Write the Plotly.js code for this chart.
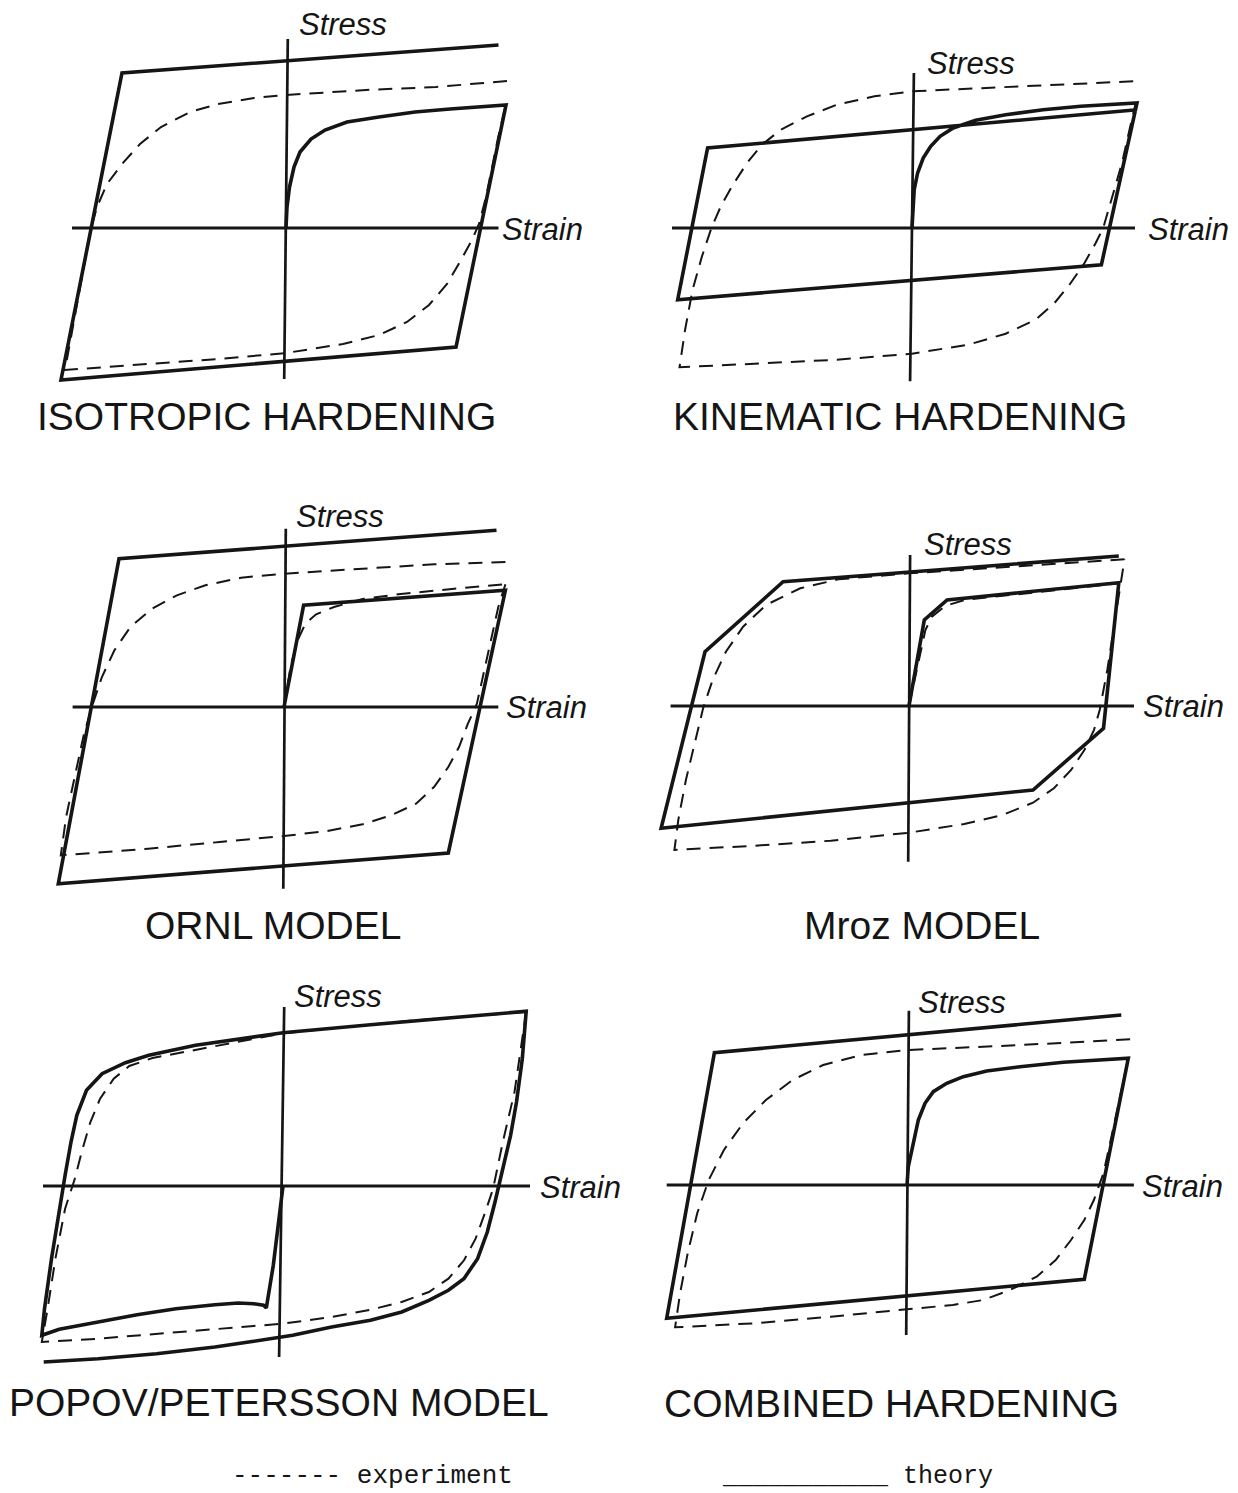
<!DOCTYPE html>
<html>
<head>
<meta charset="utf-8">
<script src="https://cdn.plot.ly/plotly-3.0.1.min.js"></script>
<style>
  html, body { margin: 0; padding: 0; background: #ffffff; }
  #chart { width: 1238px; height: 1493px; }
</style>
</head>
<body>
<div id="chart"></div>
<script>
// Strain / stress values in arbitrary units, origin at zero strain and zero stress.

// ---- Isotropic hardening ----
const isoTheoryStrain = [0, 1, 3.5, 8, 14, 25, 39, 61, 93, 129, 164, 196, 220, 170, -225, -164, 212.5];
const isoTheoryStress = [0, 21, 41, 61, 76, 89, 98, 106, 111, 116, 119, 121, 123, -119, -152, 155, 183];
const isoExpStrain = [221, 150, 80, 0, -32, -68, -96, -125, -146, -164, -179, -189, -195, -221, -139, -68, 0, 57, 93, 121, 143, 161, 175, 186, 193, 200, 212, 219.6];
const isoExpStress = [147, 141, 138, 133, 130, 124, 116, 101, 84, 64, 44, 21, 0, -142, -136, -131, -125, -116, -107, -94, -77, -56, -32, -12, 4, 31, 90, 122.7];
const isoStrainAxis = [-214, 212.5];
const isoStressAxis = [189, -151];
const isoStressAxisLean = [1.8, -1.8];

// ---- Kinematic hardening ----
const kinTheoryStrain = [0, 0.75, 2.2, 5.6, 11.2, 18.7, 28.1, 41.2, 63.7, 93.7, 131.2, 168.7, 225, 189.4, -234.3, -204.4, 225];
const kinTheoryStress = [0, 18.3, 38.3, 55, 70, 81.7, 91.7, 100, 107.7, 113.3, 118.3, 121.7, 125, -36.7, -71.7, 80, 118.3];
const kinExpStrain = [221.2, 112.5, 0, -37.5, -75, -105, -131.2, -150, -165, -180, -191.2, -200.6, -210, -219.4, -226.9, -232.5, -150, -75, 0, 56.2, 93.7, 123.7, 142.5, 157.5, 172.5, 183.7, 191.2, 200.6, 210, 217.5, 223.5];
const kinExpStress = [146.7, 141.7, 136.7, 131.7, 123.3, 111.7, 98.3, 83.3, 65, 41.7, 21.7, 0, -28.3, -61.7, -101.7, -139.3, -135, -131.7, -125.7, -116.7, -105.7, -91.7, -75, -56.7, -35, -15, 0, 31.7, 65, 98.3, 124];
const kinStrainAxis = [-240, 223];
const kinStressAxis = [155, -153.3];
const kinStressAxisLean = [1.9, -1.9];

// ---- ORNL model ----
const ornlTheoryStrain = [0, 13.6, 19.6, 221.4, 164.3, -225.7, -165, 212.5];
const ornlTheoryStress = [0, 73.3, 101.7, 116.7, -146, -176.7, 148.3, 176.7];
const ornlExpInitStrain = [0, 7.1, 14.3, 21.4, 32.1, 50, 78.6, 114.3, 167.9, 221.4];
const ornlExpInitStress = [0, 43.3, 68.3, 83.3, 92.7, 100, 108, 112.7, 118, 122.7];
const ornlExpStrain = [221.4, 150, 78.6, 0, -42.9, -78.6, -107.1, -132.1, -153.6, -169.6, -182.1, -191.1, -200, -208.9, -217.9, -223.2, -135.7, -64.3, 0, 42.9, 78.6, 107.1, 132.1, 150, 164.3, 175, 183.9, 192.9, 203.6, 214.3, 221.4];
const ornlExpStress = [145, 142.7, 138.3, 133.3, 129.3, 121.7, 111.7, 98.3, 80, 56.7, 30, 3.3, -26.7, -66.7, -110, -148.3, -141.7, -135, -129, -124, -117.3, -108.3, -96.7, -80, -60, -40, -16.7, 3.3, 50, 100, 122.7];
const ornlStrainAxis = [-211.4, 214.3];
const ornlStressAxis = [178.3, -181.7];
const ornlStressAxisLean = [1.8, -0.7];

// ---- Mroz model ----
const mrozTheoryStrain = [0, 15.3, 38.1, 209.8, 194.5, 124, -247.9, -204, -125.9, 209.8];
const mrozTheoryStress = [0, 86, 106, 123.3, -22.3, -84, -122.3, 54.3, 124.3, 150];
const mrozExpInitStrain = [0, 9.5, 16.4, 22.9, 36.2, 55.3, 112.5, 209.8];
const mrozExpInitStress = [0, 46, 76, 89.3, 100, 106, 112, 122.7];
const mrozExpStrain = [215.5, 112.5, 0, -70.6, -108.7, -143, -165.9, -183.1, -196.4, -205.9, -215.5, -223.1, -230.7, -234.6, -154.5, -78.2, 0, 55.3, 93.4, 124, 144.9, 162.1, 175.4, 185, 190.7, 198.3, 206, 212.4, 215.5];
const mrozExpStress = [146.7, 140, 132.7, 126.7, 117.7, 101, 79.3, 54.3, 26, -2.3, -40.7, -74, -114, -144, -139.7, -134.7, -126.7, -118, -109, -96.7, -82.3, -64, -44, -24, -4, 36, 86, 127.7, 146.7];
const mrozStrainAxis = [-238.4, 225];
const mrozStressAxis = [151, -155.7];
const mrozStressAxisLean = [1.1, -0.8];

// ---- Popov / Petersson model ----
const popovTheoryStrain = [0, -2.7, -9.7, -16.7, -19.5, -29.2, -44.7, -68.1, -107, -145.9, -184.8, -223.7, -241.2,
  -238.5, -231.5, -223.7, -217.9, -212, -206.2, -196.5, -180.9, -157.6, -134.2, -87.5, -38.9, 0, 87.5, 165.4, 243.2,
  239.3, 233.5, 227.6, 221.8, 216.7, 212, 204.3, 194.6, 180.9, 165.4, 145.9, 118.7, 87.5, 48.6, 9.7, -29.2, -68.1, -126.5, -184.8, -239.3];
const popovTheoryStress = [0, -22.7, -79.3, -122, -119.3, -117.7, -117, -118.7, -122.7, -128.7, -136, -143.3, -149.3,
  -122.7, -72.7, -22.7, 10.7, 44, 70.7, 95.7, 112.3, 123.3, 130.7, 140.7, 148, 153.3, 161.3, 168, 174.7,
  127.3, 84, 50.7, 27.3, 4, -16, -46, -72.7, -92.7, -104.3, -114.3, -126, -134.3, -141, -149.3, -155.3, -161, -167.7, -172.7, -176];
const popovExpStrain = [243.2, 126.5, 0, -38.9, -87.5, -130.4, -153.7, -169.3, -182.9, -192.6, -200.4, -208.2, -217.9, -227.6, -235.4, -241.2, -184.8, -107, -29.2, 0, 48.6, 87.5, 118.7, 145.9, 165.4, 181, 192.6, 202.3, 210.1, 219.8, 231.5, 241.2, 243.2];
const popovExpStress = [174, 165.3, 152.7, 145.3, 136.7, 128, 120, 107.3, 87.3, 64, 37.3, 7.3, -22.7, -72.7, -122.7, -156, -152.7, -146, -140, -137.7, -131, -123.7, -116, -106, -92.7, -74.3, -52.7, -26, -2.7, 44, 94, 160.7, 174];
const popovStrainAxis = [-240, 247];
const popovStressAxis = [179, -171];
const popovStressAxisLean = [1.2, -3.9];

// ---- Combined hardening ----
const combTheoryStrain = [0, 1.3, 6.3, 11.3, 18, 26.3, 39.7, 56.3, 79.7, 113, 156.3, 189.7, 221.3, 177.3, -240.3, -192.6, 214.3];
const combTheoryStress = [0, 18.3, 41.7, 65, 81.7, 93.3, 101.7, 108.3, 114, 118.3, 122.7, 125, 126.7, -94.3, -133.3, 132.3, 170];
const combExpStrain = [223.1, 114.4, 0, -45.8, -83.9, -114.4, -141.1, -164, -183.1, -198.3, -209.8, -219.3, -226.9, -231.9, -152.6, -76.3, 0, 45.8, 76.3, 103, 129.7, 148.7, 164, 177.3, 186.9, 196.4, 205.9, 215.5, 221.3];
const combExpStress = [145.7, 140, 135, 130, 120, 105, 85, 61.7, 35, 5, -28.3, -68.3, -108.3, -142.3, -138.3, -131.7, -124.3, -120, -115, -105, -91.7, -75, -55, -35, -15, 11.7, 55, 98.3, 126.7];
const combStrainAxis = [-240.3, 226.9];
const combStressAxis = [174.3, -150];
const combStressAxisLean = [1.9, -0.8];

// Panel captions and legend text
const panelTitles = ['ISOTROPIC HARDENING', 'KINEMATIC HARDENING', 'ORNL MODEL', 'Mroz MODEL', 'POPOV/PETERSSON MODEL', 'COMBINED HARDENING'];
const stressLabel = 'Stress';
const strainLabel = 'Strain';
const legendExperiment = '------- experiment';
const legendTheory = '___________ theory';

// ---------------------------------------------------------------
const W = 1238, H = 1493;
const INK = '#151515';

// Placement of each panel on the page (pixel position of the axes crossing)
const panels = [
  { origin: [286, 228], theory: [isoTheoryStrain, isoTheoryStress], exp: [[isoExpStrain, isoExpStress]],
    hAxis: isoStrainAxis, vAxis: isoStressAxis, vLean: isoStressAxisLean,
    stressPos: [343, 24], strainPos: [500, 229], titlePos: [266, 416] },
  { origin: [912, 228], theory: [kinTheoryStrain, kinTheoryStress], exp: [[kinExpStrain, kinExpStress]],
    hAxis: kinStrainAxis, vAxis: kinStressAxis, vLean: kinStressAxisLean,
    stressPos: [971, 64], strainPos: [1146, 229], titlePos: [900, 416] },
  { origin: [284, 707], theory: [ornlTheoryStrain, ornlTheoryStress],
    exp: [[ornlExpStrain, ornlExpStress], [ornlExpInitStrain, ornlExpInitStress]],
    hAxis: ornlStrainAxis, vAxis: ornlStressAxis, vLean: ornlStressAxisLean,
    stressPos: [340, 516], strainPos: [504, 708], titlePos: [273, 925] },
  { origin: [909, 706], theory: [mrozTheoryStrain, mrozTheoryStress],
    exp: [[mrozExpStrain, mrozExpStress], [mrozExpInitStrain, mrozExpInitStress]],
    hAxis: mrozStrainAxis, vAxis: mrozStressAxis, vLean: mrozStressAxisLean,
    stressPos: [968, 544], strainPos: [1141, 707], titlePos: [922, 925] },
  { origin: [283, 1186], theory: [popovTheoryStrain, popovTheoryStress], exp: [[popovExpStrain, popovExpStress]],
    hAxis: popovStrainAxis, vAxis: popovStressAxis, vLean: popovStressAxisLean,
    stressPos: [338, 997], strainPos: [538, 1187], titlePos: [279, 1402] },
  { origin: [907, 1185], theory: [combTheoryStrain, combTheoryStress], exp: [[combExpStrain, combExpStress]],
    hAxis: combStrainAxis, vAxis: combStressAxis, vLean: combStressAxisLean,
    stressPos: [962, 1002], strainPos: [1140, 1186], titlePos: [891, 1403] }
];

const HALF_X = 255, DY_TOP = 195, DY_BOT = 190;
const traces = [];
const layout = {
  width: W, height: H,
  margin: { l: 0, r: 0, t: 0, b: 0, pad: 0 },
  paper_bgcolor: '#ffffff', plot_bgcolor: 'rgba(0,0,0,0)',
  showlegend: false,
  annotations: []
};

const fx = px => px / W;
const fy = py => 1 - py / H;

panels.forEach((p, i) => {
  const n = i === 0 ? '' : String(i + 1);
  const xa = 'x' + n, ya = 'y' + n;
  const [ox, oy] = p.origin;
  layout['xaxis' + n] = {
    domain: [(ox - HALF_X) / W, (ox + HALF_X) / W], range: [-HALF_X, HALF_X],
    visible: false, fixedrange: true, anchor: ya
  };
  layout['yaxis' + n] = {
    domain: [(H - oy - DY_BOT) / H, (H - oy + DY_TOP) / H], range: [-DY_BOT, DY_TOP],
    visible: false, fixedrange: true, anchor: xa
  };

  // strain and stress axes
  traces.push({ x: p.hAxis, y: [0, 0], xaxis: xa, yaxis: ya, mode: 'lines',
    line: { color: INK, width: 3 }, hoverinfo: 'skip' });
  traces.push({ x: p.vLean, y: p.vAxis, xaxis: xa, yaxis: ya, mode: 'lines',
    line: { color: INK, width: 2.7 }, hoverinfo: 'skip' });

  // experiment (dashed)
  p.exp.forEach(e => {
    traces.push({ x: e[0], y: e[1], xaxis: xa, yaxis: ya, mode: 'lines',
      line: { color: INK, width: 2, dash: '14px,9px' }, hoverinfo: 'skip' });
  });

  // theory (solid)
  traces.push({ x: p.theory[0], y: p.theory[1], xaxis: xa, yaxis: ya, mode: 'lines',
    line: { color: INK, width: 3.6 }, hoverinfo: 'skip' });

  layout.annotations.push({
    xref: 'paper', yref: 'paper', x: fx(p.stressPos[0]), y: fy(p.stressPos[1]),
    xanchor: 'center', yanchor: 'middle', showarrow: false,
    text: '<i>' + stressLabel + '</i>',
    font: { family: 'Liberation Sans, Arial, sans-serif', size: 31, color: INK }
  });
  layout.annotations.push({
    xref: 'paper', yref: 'paper', x: fx(p.strainPos[0]), y: fy(p.strainPos[1]),
    xanchor: 'left', yanchor: 'middle', showarrow: false,
    text: '<i>' + strainLabel + '</i>',
    font: { family: 'Liberation Sans, Arial, sans-serif', size: 31, color: INK }
  });
  layout.annotations.push({
    xref: 'paper', yref: 'paper', x: fx(p.titlePos[0]), y: fy(p.titlePos[1]),
    xanchor: 'center', yanchor: 'middle', showarrow: false,
    text: panelTitles[i],
    font: { family: 'Liberation Sans, Arial, sans-serif', size: 39, color: INK }
  });
});

// legend lines, typewriter style
layout.annotations.push({
  xref: 'paper', yref: 'paper', x: fx(230), y: fy(1476),
  xanchor: 'left', yanchor: 'middle', showarrow: false, text: legendExperiment,
  font: { family: 'Liberation Mono, Courier New, monospace', size: 26, color: INK }
});
layout.annotations.push({
  xref: 'paper', yref: 'paper', x: fx(720), y: fy(1476),
  xanchor: 'left', yanchor: 'middle', showarrow: false, text: legendTheory,
  font: { family: 'Liberation Mono, Courier New, monospace', size: 25, color: INK }
});

Plotly.newPlot('chart', traces, layout, { displayModeBar: false, staticPlot: true });
</script>
</body>
</html>
